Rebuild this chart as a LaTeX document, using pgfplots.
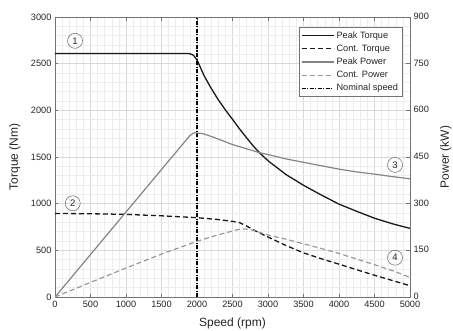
\documentclass[border=0pt]{standalone}
\usepackage{fontspec}
\setmainfont{Liberation Sans}
\usepackage{pgfplots}
\pgfplotsset{compat=1.18}

\definecolor{axgray}{gray}{0.45}
\definecolor{txt}{gray}{0.15}
\definecolor{pkpow}{gray}{0.52}
\definecolor{ctpow}{gray}{0.60}

% torque curves (Nm)
\pgfplotstableread{
n T
0 2610
1850 2610
1900 2607
1950 2590
2000 2540
2100 2371
2200 2236
2300 2113
2400 2004
2500 1904
2600 1800
2700 1704
2800 1611
2900 1531
3000 1460
3250 1314
3500 1197
3750 1093
4000 995
4250 918
4500 844
4750 785
5000 735
}\peaktorque

\pgfplotstableread{
n T
0 895
500 892
1000 885
1500 870
2000 850
2300 830
2500 810
2600 797
2700 760
2800 717
3000 643
3250 553
3500 473
3750 410
4000 352
4250 292
4500 233
4750 177
5000 121
}\conttorque

% power curves (kW)
\pgfplotstableread{
n P
0 0
1900 519
1960 528
2000 527
2050 526
2100 524
2250 512
2500 490
2750 473
2878 464
3000 458
3250 444
3500 433
3750 422
4000 411
4250 402
4500 395
4750 387
5000 380
}\peakpower

\pgfplotstableread{
n P
0 0
500 47
1000 93
1500 138
2000 179
2300 200
2500 212
2600 218
2650 219
2700 218
2800 214
3000 199
3250 186
3500 171
3750 156
4000 140
4250 122
4500 104
4750 85
5000 63
}\contpower

\tikzset{
  pktq/.style={color=black!90, line width=1.3pt},
  cttq/.style={color=black!90, line width=1.3pt, dash pattern=on 5pt off 3pt},
  pkpw/.style={color=pkpow, line width=1.2pt},
  ctpw/.style={color=ctpow, line width=1.2pt, dash pattern=on 5pt off 3pt},
  nomsp/.style={color=black, line width=1.1pt, dash pattern=on 4pt off 1.5pt on 1pt off 1.5pt},
  tag/.style={circle, draw=black!60, line width=0.5pt, minimum size=15pt, inner sep=0pt,
              font=\fontsize{9.5}{10}\selectfont, text=txt}
}

\pgfplotsset{
  common/.style={
    scale only axis, width=355pt, height=280pt,
    at={(0pt,0pt)}, anchor=south west,
    xmin=0, xmax=5000,
    axis line style={draw=axgray, line width=0.6pt},
    tick style={draw=axgray, line width=0.5pt},
    tick align=inside, major tick length=3.5pt, minor tick length=0pt,
    ticklabel style={font=\fontsize{9.2}{10}\selectfont, text=txt},
    /pgf/number format/assume math mode=true,
    /pgf/number format/1000 sep={},
    label style={font=\fontsize{12}{14}\selectfont, text=txt},
  }
}

\begin{document}
\begin{tikzpicture}
\useasboundingbox (-55pt,-33pt) rectangle (398pt,297pt);

\begin{axis}[
  common,
  ymin=0, ymax=3000,
  xtick={0,500,...,5000}, ytick={0,500,...,3000},
  minor x tick num=4, minor y tick num=4,
  grid=both,
  major grid style={draw=black!15, line width=0.5pt},
  minor grid style={draw=black!7, line width=0.4pt},
  xtick pos=both, ytick pos=left,
  xticklabel style={yshift=-1pt},
  xlabel={Speed (rpm)}, ylabel={Torque (Nm)},
  xlabel style={at={(axis description cs:0.5,-0.096)}, anchor=center},
  ylabel style={at={(axis description cs:-0.113,0.5)}, anchor=center},
]
\addplot[pktq] table[x=n, y=T] {\peaktorque};
\addplot[cttq] table[x=n, y=T] {\conttorque};
\addplot[nomsp] coordinates {(2000,0) (2000,3000)};

\node[tag] at (axis cs:282,2745) {1};
\node[tag] at (axis cs:250,1004) {2};
\node[tag] at (axis cs:4789,1415) {3};
\node[tag] at (axis cs:4789,421) {4};
\end{axis}

\begin{axis}[
  common,
  ymin=0, ymax=900,
  axis x line=none, axis y line*=right,
  ytick={0,150,...,900},
  yticklabel style={yshift=0.8pt},
  ylabel={Power (kW)},
  ylabel style={at={(axis description cs:1.101,0.5)}, anchor=center},
  legend cell align=left,
  legend image code/.code={\draw[#1] (0pt,0pt) -- (32pt,0pt);},
  legend style={at={(0.978,0.964)}, anchor=north east,
    draw=black!55, fill=white, line width=0.5pt,
    font=\fontsize{9.2}{11}\selectfont, text=txt,
    inner xsep=2pt, inner ysep=2pt, row sep=1.2pt,
    /tikz/every even column/.append style={column sep=2pt}},
]
\addlegendimage{pktq}
\addlegendentry{Peak Torque}
\addlegendimage{cttq}
\addlegendentry{Cont. Torque}
\addplot[pkpw] table[x=n, y=P] {\peakpower};
\addlegendentry{Peak Power}
\addplot[ctpw] table[x=n, y=P] {\contpower};
\addlegendentry{Cont. Power}
\addlegendimage{nomsp}
\addlegendentry{Nominal speed}
\end{axis}
\end{tikzpicture}
\end{document}
